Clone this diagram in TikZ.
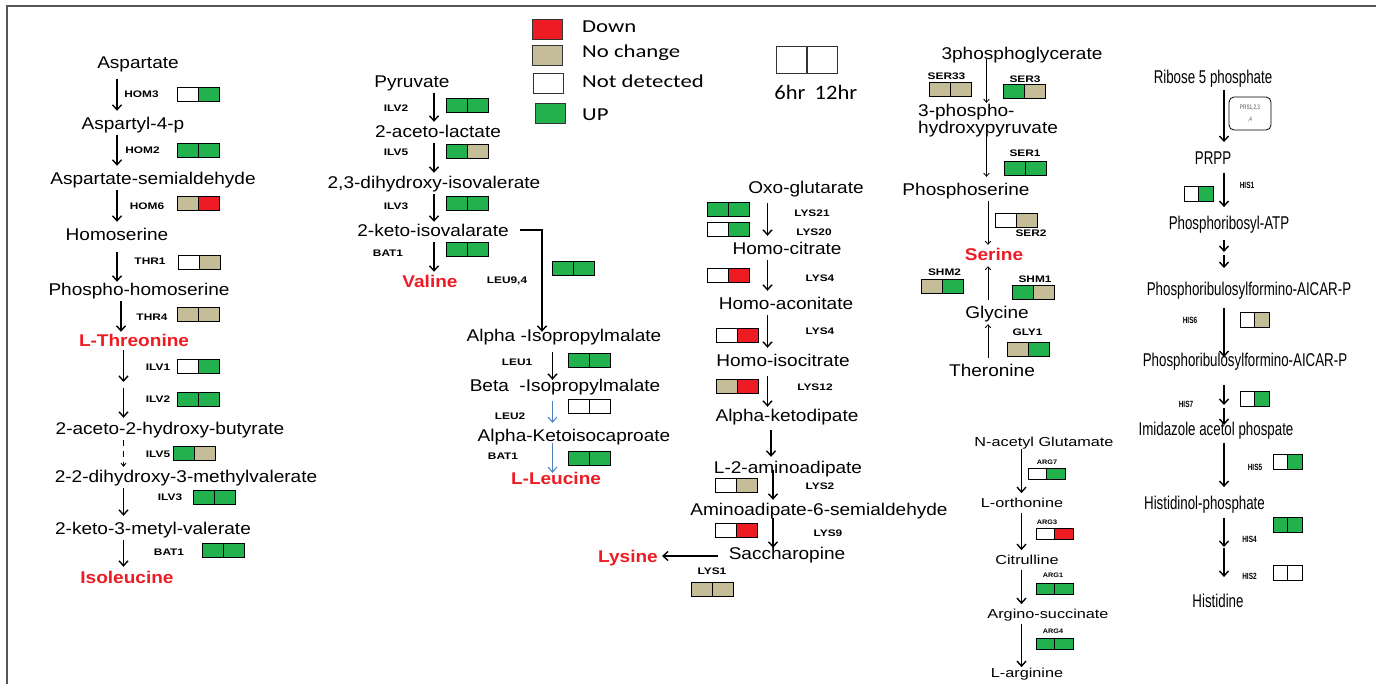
\documentclass[tikz,border=0pt]{standalone}
\usepackage{fontspec}
\setmainfont{Liberation Sans}
\newfontfamily\mf[FakeStretch=1.12]{Liberation Sans}
\newfontfamily\ef[FakeStretch=1.25]{Liberation Sans}
\newfontfamily\nf[FakeStretch=0.72]{Liberation Sans}
\newfontfamily\cf[FakeStretch=1.25]{Carlito}
\newfontfamily\cg[FakeStretch=1.1]{Carlito}
\usetikzlibrary{arrows.meta}
\newcommand\fsz[1]{\fontsize{#1}{#1}\selectfont}
\definecolor{gup}{HTML}{22B14C}
\definecolor{rdn}{HTML}{ED1C24}
\definecolor{tnc}{HTML}{C4BD97}
\definecolor{bla}{HTML}{4F81BD}
\definecolor{frm}{HTML}{555555}
\newcommand\cellpair[6][]{%
  \node[cell,#1,fill=#5,anchor=west] (#2a) at (#3,#4) {};
  \node[cell,#1,fill=#6,anchor=west] (#2b) at (#2a.east) {};}
\begin{document}
\begin{tikzpicture}[x=1pt,y=-1pt,
  met/.style={font=\mf\fsz{17}, text height=12.2pt, text depth=0pt, inner xsep=2pt, inner ysep=5.9pt},
  prod/.style={met, font=\mf\bfseries\fsz{17}, text=rdn},
  argm/.style={font=\ef\fsz{13}, text height=9.3pt, text depth=0pt, inner xsep=2pt, inner ysep=5pt},
  hism/.style={font=\nf\fsz{18.5}, text height=13.2pt, text depth=0pt, inner xsep=2pt, inner ysep=4.15pt},
  enz/.style={font=\ef\bfseries\fsz{9.5}, text height=6.8pt, text depth=0pt, inner sep=0pt},
  enza/.style={font=\mf\bfseries\fsz{6.5}, text height=4.7pt, text depth=0pt, inner sep=0pt},
  enzh/.style={font=\nf\bfseries\fsz{9}, text height=6.4pt, text depth=0pt, inner sep=0pt},
  cell/.style={draw=black, line width=0.9pt, minimum width=21pt, minimum height=14pt, inner sep=0pt, outer sep=0pt},
  acell/.style={minimum width=18.5pt, minimum height=11pt},
  hcell/.style={minimum width=14.5pt, minimum height=14.5pt},
  arr/.style={line width=1.4pt, -{Straight Barb[length=5pt,width=9pt]}},
  tarr/.style={line width=0.8pt, -{Straight Barb[length=3pt,width=5.5pt]}},
  barr/.style={line width=1pt, draw=bla, -{Straight Barb[length=5pt,width=9pt]}},
  darr/.style={line width=0.9pt, dash pattern=on 6pt off 5pt, -{Straight Barb[length=3pt,width=5pt]}},
  lbox/.style={draw=black!80, line width=0.9pt, minimum width=30pt, minimum height=20pt, inner sep=0pt},
  leg/.style={font=\cf\fsz{18.2}, anchor=west, text height=11.7pt, text depth=0pt, inner sep=0pt},
]
\useasboundingbox (0,0) rectangle (1376,684);
\draw[frm, line width=1.6pt] (7,684) -- (7,6) -- (1376,6);

% ---------------- legend
\node[lbox, fill=rdn] (lgdown) at (547,29) {};
\node[lbox, fill=tnc] (lgnc) at (547.5,55.5) {};
\node[lbox, fill=white] (lgnd) at (548.5,83) {};
\node[lbox, fill=gup] (lgup) at (550.5,113) {};
\node[leg] (tdown) at (582,27) {Down};
\node[leg] (tnc) at (582,52) {No change};
\node[leg] (tnd) at (582,82) {Not detected};
\node[leg] (tup) at (582,115) {UP};
\node[draw=black!80, line width=0.9pt, minimum width=30pt, minimum height=27pt, inner sep=0pt, anchor=north west] (h6) at (776,46) {};
\node[draw=black!80, line width=0.9pt, minimum width=30pt, minimum height=27pt, inner sep=0pt, anchor=north west] (h12) at (h6.north east) {};
\node[font=\cg\fsz{20.5}, inner sep=0pt] (t6) at (790,92) {6hr};
\node[font=\cg\fsz{20.5}, inner sep=0pt] (t12) at (836,92) {12hr};

% ---------------- isoleucine / threonine column
\node[met] (asp) at (138,62.7) {Aspartate};
\node[met] (asp4) at (133,123) {Aspartyl-4-p};
\node[met] (asa) at (153,178) {Aspartate-semialdehyde};
\node[met] (hser) at (117,234) {Homoserine};
\node[met] (phser) at (139,289) {Phospho-homoserine};
\node[prod] (lthr) at (134,340) {L-Threonine};
\node[met] (ahb) at (170,428) {2-aceto-2-hydroxy-butyrate};
\node[met] (dhmv) at (186,476) {2-2-dihydroxy-3-methylvalerate};
\node[met] (kmv) at (153,528) {2-keto-3-metyl-valerate};
\node[prod] (ile) at (127,577) {Isoleucine};

\node[enz] (LHOM3) at (141.5,94) {HOM3}; \cellpair{bLHOM3}{177}{94}{white}{gup}
\node[enz] (LHOM2) at (142.5,150) {HOM2}; \cellpair{bLHOM2}{177}{150}{gup}{gup}
\node[enz] (LHOM6) at (147,206) {HOM6}; \cellpair{bLHOM6}{177}{203}{tnc}{rdn}
\node[enz] (LTHR1) at (150,261) {THR1}; \cellpair{bLTHR1}{178}{262}{white}{tnc}
\node[enz] (LTHR4) at (152,317) {THR4}; \cellpair{bLTHR4}{177}{314}{tnc}{tnc}
\node[enz] (LILV1) at (158,367) {ILV1}; \cellpair{bLILV1}{177}{366}{white}{gup}
\node[enz] (LILV2) at (158,399) {ILV2}; \cellpair{bLILV2}{177}{399}{gup}{gup}
\node[enz] (LILV5) at (158,454) {ILV5}; \cellpair{bLILV5}{173}{453}{gup}{tnc}
\node[enz] (LILV3) at (170,497) {ILV3}; \cellpair{bLILV3}{193}{497}{gup}{gup}
\node[enz] (LBAT1) at (169,552) {BAT1}; \cellpair{bLBAT1}{202}{550}{gup}{gup}

\coordinate (xL1) at (117,0);
\coordinate (xL2) at (121,0);
\coordinate (xL3) at (123.5,0);
\coordinate (mL) at (123.5,385);
\draw[arr, shorten <=4pt] (asp.south -| xL1) -- (asp4.north -| xL1);
\draw[arr] (asp4.south -| xL1) -- (asa.north -| xL1);
\draw[arr] (asa.south -| xL1) -- (hser.north -| xL1);
\draw[arr, shorten <=6pt, shorten >=-5pt] (hser.south -| xL1) -- (phser.north -| xL1);
\draw[arr, shorten >=-4pt] (phser.south -| xL2) -- (lthr.north -| xL2);
\draw[arr, shorten <=-2pt, shorten >=3pt] (lthr.south -| xL3) -- (mL);
\draw[arr, shorten <=3pt, shorten >=-2pt] (mL) -- (ahb.north -| xL3);
\draw[darr, shorten >=-3pt] (ahb.south -| xL3) -- (dhmv.north -| xL3);
\draw[arr] (dhmv.south -| xL3) -- (kmv.north -| xL3);
\draw[arr, shorten >=-2pt] (kmv.south -| xL3) -- (ile.north -| xL3);

% ---------------- valine column
\node[met] (pyr) at (412,81) {Pyruvate};
\node[met] (acl) at (438,131) {2-aceto-lactate};
\node[met] (dhiv) at (434,182) {2,3-dihydroxy-isovalerate};
\node[met] (kiv) at (433,230) {2-keto-isovalarate};
\node[prod] (val) at (430,281) {Valine};

\node[enz] (MILV2) at (396,108) {ILV2}; \cellpair{bMILV2}{446}{105}{gup}{gup}
\node[enz] (MILV5) at (396,152) {ILV5}; \cellpair{bMILV5}{446}{151}{gup}{tnc}
\node[enz] (MILV3) at (396,206) {ILV3}; \cellpair{bMILV3}{446}{203}{gup}{gup}
\node[enz] (MBAT1) at (388,253) {BAT1}; \cellpair{bMBAT1}{446}{249}{gup}{gup}
\node[enz] (MLEU94) at (507,280) {LEU9,4}; \cellpair{bMLEU94}{552}{268}{gup}{gup}

\coordinate (xM) at (434,0);
\draw[arr, shorten >=-3pt] (pyr.south -| xM) -- (acl.north -| xM);
\draw[arr, shorten >=-3pt] (acl.south -| xM) -- (dhiv.north -| xM);
\draw[arr, shorten >=-4pt] (dhiv.south -| xM) -- (kiv.north -| xM);
\draw[arr, shorten >=-3pt] (kiv.south -| xM) -- (val.north -| xM);

% ---------------- leucine
\node[met] (aipm) at (564,335) {Alpha -Isopropylmalate};
\node[met] (bipm) at (565,385) {Beta\ \ -Isopropylmalate};
\node[met] (akic) at (574,435) {Alpha-Ketoisocaproate};
\node[prod] (leu) at (556,478) {L-Leucine};

\node[enz] (ELEU1) at (517,362) {LEU1}; \cellpair{bELEU1}{568}{360}{gup}{gup}
\node[enz] (ELEU2) at (510,416) {LEU2}; \cellpair{bELEU2}{568}{406}{white}{white}
\node[enz] (EBAT1) at (503,456) {BAT1}; \cellpair{bEBAT1}{568}{458}{gup}{gup}

\coordinate (xE) at (542,0);
\coordinate (xLe) at (552.5,0);
\draw[arr, shorten >=-9pt] ([xshift=9pt]kiv.east) -| (aipm.north -| xE);
\draw[arr, shorten <=5pt, shorten >=-7pt] (aipm.south -| xLe) -- (bipm.north -| xLe);
\draw[barr, shorten <=4pt] (bipm.south -| xLe) -- (akic.north -| xLe);
\draw[barr, shorten <=-4pt, shorten >=-7pt] (akic.south -| xLe) -- (leu.north -| xLe);

% ---------------- lysine column
\node[met] (oxo) at (806,187) {Oxo-glutarate};
\node[met] (hcit) at (787,248) {Homo-citrate};
\node[met] (hacon) at (786,303) {Homo-aconitate};
\node[met] (hicit) at (783,360) {Homo-isocitrate};
\node[met] (akd) at (787,415) {Alpha-ketodipate};
\node[met] (laa) at (788,467) {L-2-aminoadipate};
\node[met] (aasa) at (819,509) {Aminoadipate-6-semialdehyde};
\node[met] (sac) at (787,553) {Saccharopine};
\node[prod] (lys) at (628,556) {Lysine};

\node[enz] (KLYS21) at (812,213) {LYS21}; \cellpair{bKLYS21}{707}{209.5}{gup}{gup}
\node[enz] (KLYS20) at (814,232) {LYS20}; \cellpair{bKLYS20}{707}{229}{white}{gup}
\node[enz] (KLYS4a) at (820,278) {LYS4}; \cellpair{bKLYS4a}{707}{275}{white}{rdn}
\node[enz] (KLYS4b) at (820,331) {LYS4}; \cellpair{bKLYS4b}{716}{335}{white}{rdn}
\node[enz] (KLYS12) at (815,387) {LYS12}; \cellpair{bKLYS12}{716}{386}{tnc}{rdn}
\node[enz] (KLYS2) at (820,486) {LYS2}; \cellpair{bKLYS2}{715}{485}{white}{tnc}
\node[enz] (KLYS9) at (828,533) {LYS9}; \cellpair{bKLYS9}{715}{530}{white}{rdn}
\node[enz] (KLYS1) at (712,571) {LYS1}; \cellpair{bKLYS1}{691}{589}{tnc}{tnc}

\coordinate (xK1) at (767.5,0);
\coordinate (xK2) at (771,0);
\coordinate (xK3) at (773,0);
\draw[arr, shorten <=4pt] (oxo.south -| xK1) -- (hcit.north -| xK1);
\draw[arr] (hcit.south -| xK1) -- (hacon.north -| xK1);
\draw[arr] (hacon.south -| xK1) -- (hicit.north -| xK1);
\draw[arr, shorten <=4pt, shorten >=-4pt] (hicit.south -| xK1) -- (akd.north -| xK1);
\draw[arr, shorten <=3pt, shorten >=-2pt] (akd.south -| xK2) -- (laa.north -| xK2);
\draw[arr, shorten <=-9pt, shorten >=-3pt] (laa.south -| xK3) -- (aasa.north -| xK3);
\draw[arr, shorten <=-3pt, shorten >=-7pt] (aasa.south -| xK3) -- (sac.north -| xK3);
\draw[arr, shorten <=9pt, shorten >=2pt] (sac.west |- lys.east) -- (lys.east);

% ---------------- serine column
\node[met] (pg) at (1022,53) {3phosphoglycerate};
\node[met, anchor=west] (hp1) at (916,110) {3-phospho-};
\node[met, anchor=west] (hp2) at (916,127) {hydroxypyruvate};
\node[met] (pser) at (966,189) {Phosphoserine};
\node[prod] (ser) at (994,254) {Serine};
\node[met] (gly) at (997,312) {Glycine};
\node[met] (thr2) at (992,370) {Theronine};

\node[enz] (SSER33) at (946.5,76) {SER33}; \cellpair{bSSER33}{929}{89}{tnc}{tnc}
\node[enz] (SSER3) at (1025,79) {SER3}; \cellpair{bSSER3}{1003}{91}{gup}{tnc}
\node[enz] (SSER1) at (1025,153) {SER1}; \cellpair{bSSER1}{1004}{168}{gup}{gup}
\node[enz] (SSER2) at (1031,233) {SER2}; \cellpair{bSSER2}{995}{220}{white}{tnc}
\node[enz] (SSHM2) at (944.5,272) {SHM2}; \cellpair{bSSHM2}{921}{286}{tnc}{gup}
\node[enz] (SSHM1) at (1035,279) {SHM1}; \cellpair{bSSHM1}{1012}{292}{gup}{tnc}
\node[enz] (SGLY1) at (1027.5,332) {GLY1}; \cellpair{bSGLY1}{1007}{349}{tnc}{gup}

\coordinate (xS1) at (986.5,0);
\coordinate (xS2) at (988,0);
\draw[tarr, shorten <=-6pt, shorten >=-5pt] (pg.south -| xS1) -- (hp1.north -| xS1);
\draw[tarr, shorten <=-9pt] (hp2.south -| xS1) -- (pser.north -| xS1);
\draw[tarr, shorten >=-3pt] (pser.south -| xS2) -- (ser.north -| xS2);
\draw[tarr] (gly.north -| xS2) -- (ser.south -| xS2);
\draw[tarr] (thr2.north -| xS2) -- (gly.south -| xS2);

% ---------------- arginine column
\node[argm] (nag) at (1044,442) {N-acetyl Glutamate};
\node[argm] (lorn) at (1022,503) {L-orthonine};
\node[argm] (cit) at (1027,560) {Citrulline};
\node[argm] (asuc) at (1048,614) {Argino-succinate};
\node[argm] (larg) at (1027,673) {L-arginine};

\node[enza] (AARG7) at (1047,462) {ARG7}; \cellpair[acell]{bAARG7}{1028}{473.5}{white}{gup}
\node[enza] (AARG3) at (1047,522) {ARG3}; \cellpair[acell]{bAARG3}{1036}{533.5}{white}{rdn}
\node[enza] (AARG1) at (1053,575) {ARG1}; \cellpair[acell]{bAARG1}{1036}{589}{gup}{gup}
\node[enza] (AARG4) at (1053,631) {ARG4}; \cellpair[acell]{bAARG4}{1036}{644}{gup}{gup}

\coordinate (xA) at (1021.5,0);
\draw[arr, shorten <=-2.5pt] (nag.south -| xA) -- (lorn.north -| xA);
\draw[arr] (lorn.south -| xA) -- (cit.north -| xA);
\draw[arr] (cit.south -| xA) -- (asuc.north -| xA);
\draw[arr, shorten >=-4pt] (asuc.south -| xA) -- (larg.north -| xA);

% ---------------- histidine column
\node[hism] (r5p) at (1213,77) {Ribose 5 phosphate};
\node[draw, rounded corners=5pt, line width=0.8pt, minimum width=42pt, minimum height=33pt,
      font=\nf\fontsize{6.5}{12}\selectfont, text=black!70, align=center, inner sep=0pt] (prs) at (1250,113.5) {PRS1,2,3\\,4};
\node[hism] (prpp) at (1213,158) {PRPP};
\node[hism] (pratp) at (1229,223) {Phosphoribosyl-ATP};
\node[hism] (pfa1) at (1249,289) {Phosphoribulosylformino-AICAR-P};
\node[hism] (pfa2) at (1245,360) {Phosphoribulosylformino-AICAR-P};
\node[hism] (iap) at (1216,429) {Imidazole acetol phospate};
\node[hism] (holp) at (1204.5,503) {Histidinol-phosphate};
\node[hism] (his) at (1218,601) {Histidine};

\node[enzh] (HHIS1) at (1247,185) {HIS1}; \cellpair[hcell]{bHHIS1}{1184}{194}{white}{gup}
\node[enzh] (HHIS6) at (1190,320) {HIS6}; \cellpair[hcell]{bHHIS6}{1240}{320}{white}{tnc}
\node[enzh] (HHIS7) at (1186,404) {HIS7}; \cellpair[hcell]{bHHIS7}{1240}{399}{white}{gup}
\node[enzh] (HHIS5) at (1255,467) {HIS5}; \cellpair[hcell]{bHHIS5}{1273}{462}{white}{gup}
\node[enzh] (HHIS4) at (1249.5,539) {HIS4}; \cellpair[hcell]{bHHIS4}{1273}{525}{gup}{gup}
\node[enzh] (HHIS2) at (1249.5,576) {HIS2}; \cellpair[hcell]{bHHIS2}{1273}{573}{white}{white}

\coordinate (xH) at (1224,0);
\coordinate (mH1) at (1224,253.5);
\coordinate (mH2) at (1224,406.5);
\coordinate (mH3) at (1224,547.5);
\draw[arr, shorten <=2pt, shorten >=5pt] (r5p.south -| xH) -- (prpp.north -| xH);
\draw[arr, shorten <=4pt, shorten >=5pt] (prpp.south -| xH) -- (pratp.north -| xH);
\draw[arr, shorten <=6pt, shorten >=1.5pt] (pratp.south -| xH) -- (mH1);
\draw[arr, shorten <=1.5pt, shorten >=10pt] (mH1) -- (pfa1.north -| xH);
\draw[arr, shorten <=8pt, shorten >=-8pt] (pfa1.south -| xH) -- (pfa2.north -| xH);
\draw[arr, shorten <=14pt, shorten >=1.5pt] (pfa2.south -| xH) -- (mH2);
\draw[arr, shorten <=1.5pt, shorten >=-7pt] (mH2) -- (iap.north -| xH);
\draw[arr, shorten <=3pt, shorten >=5pt] (iap.south -| xH) -- (holp.north -| xH);
\draw[arr, shorten <=4pt, shorten >=0.5pt] (holp.south -| xH) -- (mH3);
\draw[arr, shorten <=0.5pt, shorten >=13pt] (mH3) -- (his.north -| xH);
\end{tikzpicture}
\end{document}
